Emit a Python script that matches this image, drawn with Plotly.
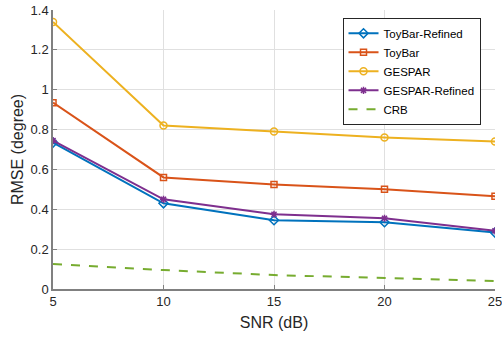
import plotly.graph_objects as go

snr = [5, 10, 15, 20, 25]
toybar_refined = [0.735, 0.43, 0.345, 0.335, 0.283]
toybar = [0.935, 0.56, 0.525, 0.50, 0.465]
gespar = [1.34, 0.82, 0.79, 0.76, 0.74]
gespar_refined = [0.745, 0.45, 0.375, 0.355, 0.292]
crb = [0.126, 0.095, 0.07, 0.055, 0.04]

fig = go.Figure()
fig.add_trace(go.Scatter(x=snr, y=toybar_refined, name="ToyBar-Refined", mode="lines+markers",
                         line=dict(color="#0072BD", width=2),
                         marker=dict(symbol="diamond-open", size=7, color="#0072BD", line=dict(width=1.5))))
fig.add_trace(go.Scatter(x=snr, y=toybar, name="ToyBar", mode="lines+markers",
                         line=dict(color="#D95319", width=2),
                         marker=dict(symbol="square-open", size=6, color="#D95319", line=dict(width=1.5))))
fig.add_trace(go.Scatter(x=snr, y=gespar, name="GESPAR", mode="lines+markers",
                         line=dict(color="#EDB120", width=2),
                         marker=dict(symbol="circle-open", size=7, color="#EDB120", line=dict(width=1.5))))
fig.add_trace(go.Scatter(x=snr, y=gespar_refined, name="GESPAR-Refined", mode="lines+markers",
                         line=dict(color="#7E2F8E", width=2),
                         marker=dict(symbol="asterisk-open", size=6, color="#7E2F8E", line=dict(width=1.5, color="#7E2F8E"))))
fig.add_trace(go.Scatter(x=snr, y=crb, name="CRB", mode="lines",
                         line=dict(color="#77AC30", width=2, dash="dash")))

fig.update_layout(
    width=502, height=337,
    margin=dict(l=53, r=7, t=10, b=48, autoexpand=False),
    paper_bgcolor="white", plot_bgcolor="white",
    font=dict(family="Liberation Sans, Arial, sans-serif", size=13, color="#262626"),
    legend=dict(x=0.655, y=0.972, xanchor="left", yanchor="top",
                bgcolor="white", bordercolor="#262626", borderwidth=1,
                font=dict(size=11.5, color="#000000"), tracegroupgap=0, itemwidth=30),
    showlegend=True,
)
fig.update_xaxes(range=[4.999, 25.001], tickvals=snr, ticktext=["5", "10", "15", "20", "25"],
                 showgrid=True, gridcolor="#E0E0E0", gridwidth=1, automargin=False,
                 ticklabeloverflow="allow",
                 showline=True, linecolor="#808080", linewidth=1.5, mirror=False,
                 ticks="inside", ticklen=4, tickcolor="#808080", zeroline=False,
                 title=dict(text="SNR (dB)", standoff=8))
fig.update_yaxes(range=[0, 1.4001], tickvals=[0, 0.2, 0.4, 0.6, 0.8, 1, 1.2, 1.4],
                 ticktext=["0", "0.2", "0.4", "0.6", "0.8", "1", "1.2", "1.4"],
                 showgrid=True, gridcolor="#E0E0E0", gridwidth=1, automargin=False,
                 ticklabeloverflow="allow",
                 showline=True, linecolor="#808080", linewidth=1.5, mirror=False,
                 ticks="inside", ticklen=4, tickcolor="#808080", zeroline=False,
                 title=dict(text="RMSE (degree)", standoff=3))
fig.write_html("out.html", config={"displayModeBar": False},
               post_script="document.body.style.margin='0';document.body.style.padding='0';")
